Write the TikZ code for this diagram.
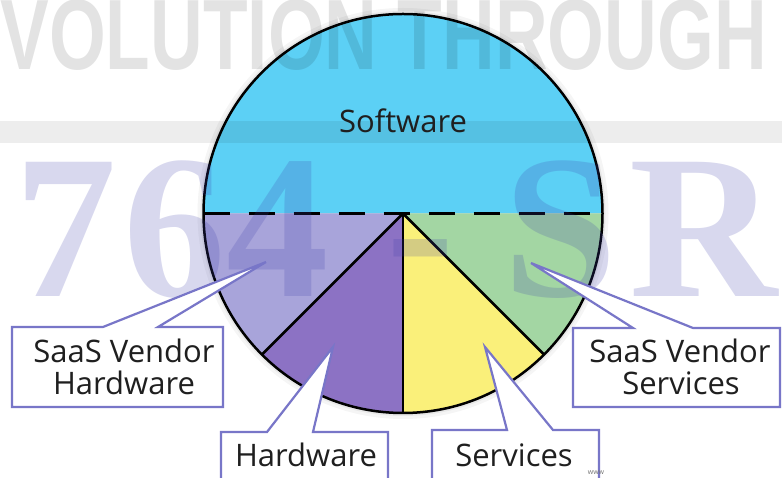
\documentclass[tikz,border=0pt]{standalone}
\usepackage{fontspec}
\usetikzlibrary{calc}
\setmainfont{Open Sans}
\newfontfamily\wmserif{Liberation Serif}
\newfontfamily\wmsans{Liberation Sans}
\definecolor{swblue}{RGB}{92,208,245}
\definecolor{svhw}{RGB}{168,164,218}
\definecolor{hwpurple}{RGB}{140,114,196}
\definecolor{svyellow}{RGB}{250,240,122}
\definecolor{svsgreen}{RGB}{163,214,163}
\definecolor{callline}{RGB}{120,118,200}
\definecolor{wmblue}{RGB}{60,60,170}
\begin{document}
\begin{tikzpicture}[x=1pt,y=1pt,
  edge/.style={line width=2.8pt,black},
  rim/.style={line width=2.5pt,black},
  callbox/.style={draw=callline,line width=2.2pt,fill=white,line join=miter},
  lbl/.style={font=\fontsize{31}{34}\selectfont,text=black!88,anchor=base,inner sep=0pt},
  wm/.style={text=wmblue,opacity=0.2,font=\wmserif\bfseries\fontsize{205}{205}\selectfont,anchor=base,inner sep=0pt}]
\useasboundingbox (0,0) rectangle (782,478);
\fill[white] (0,0) rectangle (782,478);
\def\R{199.5}
\coordinate (C) at (403,264.5);
\coordinate (W) at (203.5,264.5);
\coordinate (E) at (602.5,264.5);
\coordinate (P225) at ($(C)+(225:\R)$);
\coordinate (P270) at ($(C)+(270:\R)$);
\coordinate (P315) at ($(C)+(315:\R)$);
% soft shadow
\fill[black,opacity=0.04] (C) circle (\R+6);
\fill[black,opacity=0.05] (C) circle (\R+3);
% slices
\fill[swblue] (E) arc[start angle=0,end angle=180,radius=\R] -- cycle;
\fill[svhw] (C) -- (W) arc[start angle=180,end angle=225,radius=\R] -- cycle;
\fill[hwpurple] (C) -- (P225) arc[start angle=225,end angle=270,radius=\R] -- cycle;
\fill[svyellow] (C) -- (P270) arc[start angle=270,end angle=315,radius=\R] -- cycle;
\fill[svsgreen] (C) -- (P315) arc[start angle=315,end angle=360,radius=\R] -- cycle;
% lines
\draw[line width=3.5pt,dash pattern=on 26pt off 19pt] (W) -- (E);
\draw[edge] (C) -- (P225);
\draw[edge] (C) -- (P270);
\draw[edge] (C) -- (P315);
\draw[rim] (C) circle (\R);
% watermarks
\node[anchor=base east,inner sep=0pt,text=black,opacity=0.11,font=\wmsans\bfseries\fontsize{100}{100}\selectfont] (wmtop) at (767,408) {\scalebox{0.73}[1]{EVOLUTION THROUGH}};
\fill[black,opacity=0.07] (0,335) rectangle (782,357);
\node[wm] (w7) at (66,181) {7};
\node[wm] (w6) at (175,181) {6};
\node[wm] (w4) at (278,181) {4};
\node[wm] (wd) at (421,181) {-};
\node[wm] (wS) at (560,181) {S};
\node[wm] (wR) at (704,181) {R};
% labels
\node[lbl] (sw) at (403,345) {Software};
% callouts
\coordinate (t1) at (266,216);
\coordinate (t2) at (333,131);
\coordinate (t3) at (485,131);
\coordinate (t4) at (531,215);
\draw[callbox] (12,71) -- (12,151) -- (103,151) -- (t1) -- (158,151) -- (223,151) -- (223,71) -- cycle;
\draw[callbox] (221,-10) -- (221,46) -- (267,46) -- (t2) -- (313,46) -- (388,46) -- (388,-10);
\draw[callbox] (432,-10) -- (432,48) -- (507,48) -- (t3) -- (553,48) -- (599,48) -- (599,-10);
\draw[callbox] (573,71) -- (573,150) -- (633,150) -- (t4) -- (693,150) -- (780,150) -- (780,71) -- cycle;
\node[lbl] (svh1) at (124,115) {SaaS Vendor};
\node[lbl] (svh2) at (124,83) {Hardware};
\node[lbl] (hw) at (306,11) {Hardware};
\node[lbl] (sv) at (514,11) {Services};
\node[lbl] (svs1) at (680,115) {SaaS Vendor};
\node[lbl] (svs2) at (681,83) {Services};
\node[anchor=base,inner sep=0pt,text=black!55,font=\fontsize{7}{7}\selectfont] (www) at (596,3) {www};
\end{tikzpicture}
\end{document}
